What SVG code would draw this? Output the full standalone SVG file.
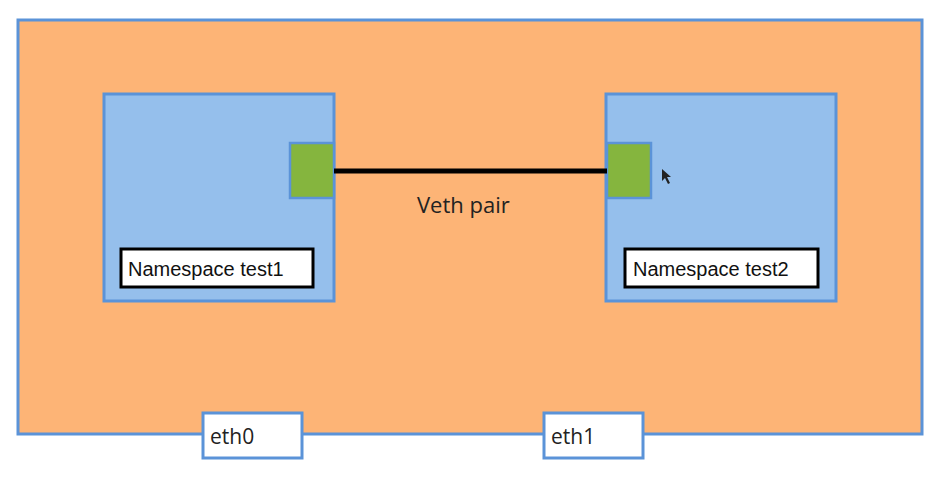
<svg xmlns="http://www.w3.org/2000/svg" width="943" height="484" viewBox="0 0 943 484">
<style>
.host{fill:#fdb476;stroke:#5b93d8;stroke-width:3}
.ns{fill:#95bfec;stroke:#5b93d8;stroke-width:3}
.port{fill:#85b53e;stroke:#5b93d8;stroke-width:2.5}
.lbl{fill:#fff;stroke:#000;stroke-width:3}
.nic{fill:#fff;stroke:#5b93d8;stroke-width:3}
.t{font-family:"Liberation Sans",Arial,sans-serif;font-size:20px;fill:#111}
.t2{font-family:"Open Sans","Liberation Sans",sans-serif;font-size:21px;fill:#222}
</style>
<rect width="943" height="484" fill="#fff"/>
<g id="host"><rect class="host" x="18" y="20" width="904" height="414"/></g>
<g id="ns1">
<rect class="ns" x="104" y="94" width="230" height="207"/>
<rect class="port" x="290" y="143" width="44" height="55"/>
<rect class="lbl" x="121" y="249" width="192" height="38"/>
<text class="t" x="128" y="276">Namespace test1</text>
</g>
<g id="ns2">
<rect class="ns" x="606" y="94" width="230" height="207"/>
<rect class="port" x="607" y="143" width="44" height="55"/>
<rect class="lbl" x="625" y="249" width="193" height="38"/>
<text class="t" x="633" y="276">Namespace test2</text>
</g>
<g id="connectors">
<line x1="334" y1="171" x2="607" y2="171" stroke="#000" stroke-width="5"/>
<text class="t2" x="417" y="213" style="font-size:22px">Veth pair</text>
</g>
<g id="eth0">
<rect class="nic" x="203" y="413" width="99" height="45"/>
<text class="t2" x="210" y="444">eth0</text>
</g>
<g id="eth1">
<rect class="nic" x="544" y="413" width="99" height="45"/>
<text class="t2" x="551" y="444">eth1</text>
</g>
<polygon points="662,169 662,181 665,178 668,184 670,183 667,177 671,177" fill="#222"/>
</svg>
